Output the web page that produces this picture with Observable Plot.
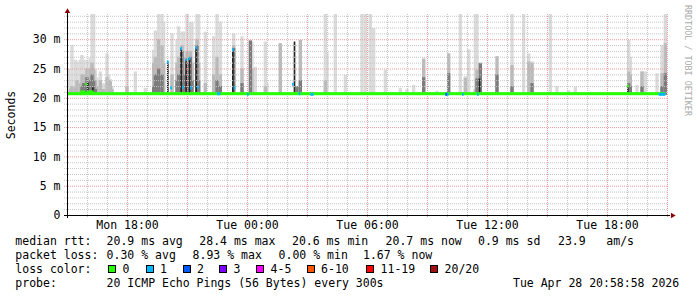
<!DOCTYPE html>
<html>
<head>
<meta charset="utf-8">
<script src="https://cdn.jsdelivr.net/npm/d3@7"></script>
<script src="https://cdn.jsdelivr.net/npm/@observablehq/plot@0.6"></script>
<style>
  html, body { margin: 0; padding: 0; background: #fff; overflow: hidden; }
  #chart svg { display: block; }
  #legend { position: relative; width: 697px; height: 65px; font-family: "DejaVu Sans Mono", monospace; font-size: 11.5px; color: #000; }
  #legend span { position: absolute; white-space: pre; line-height: 14px; }
  #legend .box { width: 6px; height: 6px; border: 1px solid #000; }
</style>
</head>
<body>
<div id="chart"></div>
<div id="legend"></div>
<script>
// ---- time frame (Mon 27 Apr 2026 15:00 → Tue 28 Apr 21:00, 30 h) ----
const START = Date.UTC(2026, 3, 27, 15, 0, 0);
const SPAN_HOURS = 30;

// ---- axis tick labels ----
const xTickHours = [3, 9, 15, 21, 27];
const xTickLabels = ["Mon 18:00", "Tue 00:00", "Tue 06:00", "Tue 12:00", "Tue 18:00"];
const yTickValues = [0, 5, 10, 15, 20, 25, 30];
const yTickLabels = ["0", "5 m", "10 m", "15 m", "20 m", "25 m", "30 m"];
const yTop = 34.3;

// ---- smoke: [minutes after start, top of layer in ms] ----
const smokeFloor = 20.5;
const smokeLight = [[0,24.9],[5,22.5],[10,29.0],[20,26.5],[25,26.2],[35,26.5],[40,27.3],[45,26.5],[50,25],[55,26.5],[65,26.8],[70,34.5],[75,34.5],[80,24.7],[85,23.5],[95,24.5],[105,22.5],[115,27.6],[120,24],[125,23.2],[130,22],[175,28],[200,24.5],[230,21.7],[255,28.2],[260,31.5],[270,34.5],[280,34.5],[285,33],[310,31],[325,29.9],[330,32.2],[340,31.3],[345,31.3],[355,34.5],[365,32.9],[370,32.9],[385,34.5],[390,34.5],[410,31.3],[435,30.5],[445,34.5],[455,33],[495,31],[520,30.5],[550,29.6],[560,25.3],[590,29.6],[595,22.5],[635,29.3],[730,21],[770,34.5],[775,27.8],[800,34.5],[830,23.9],[880,34.5],[890,34.5],[905,34.5],[915,31.9],[950,24.8],[995,21.7],[1015,21.5],[1035,22.2],[1065,26.8],[1105,21.2],[1175,34.5],[1190,23.7],[1200,28.3],[1220,34.5],[1225,34.5],[1330,34.5],[1365,34.5],[1380,27.6],[1390,26.2],[1445,34.5],[1465,22],[1500,21.3],[1520,21.9],[1680,29.9],[1685,27.0],[1705,22.2],[1720,24.5],[1730,24.5],[1765,24.2],[1780,29.0],[1790,34.5]];
const smokeMid = [[5,21.5],[10,22],[20,21.8],[25,23],[35,22.5],[40,24],[45,24],[50,23.5],[55,25],[65,25],[70,26],[75,25],[80,23],[85,22],[95,23],[105,21.5],[115,23.5],[120,23],[125,22.8],[130,21.5],[175,22],[255,26],[260,27],[270,30],[280,29],[285,26],[310,24],[325,26],[330,27],[340,29],[345,27],[355,28],[365,28],[370,26],[385,30],[390,26],[410,22.5],[435,24],[445,27],[455,24],[495,29],[520,25],[550,25],[590,22],[635,29.3],[695,29.9],[770,23],[1065,26.6],[1140,27.6],[1190,23.4],[1220,21.5],[1225,24.8],[1235,26],[1285,27.1],[1330,25.6],[1380,26.2],[1390,26],[1680,24.5],[1685,24],[1720,24.5],[1780,24.2],[1790,29.3]];
const smokeDark = [[40,22],[45,22.5],[50,22.3],[55,23.5],[65,23],[70,24],[75,23],[80,21.5],[255,22],[260,24],[270,25],[280,24],[325,23],[330,24],[340,28],[345,24],[355,26],[365,27],[370,23],[385,29],[390,23],[445,23],[455,22],[495,28.5],[520,22.5],[545,29.8],[685,22],[695,23],[1065,23.5],[1140,24.2],[1225,23.3],[1235,25.9],[1285,24],[1330,22],[1390,22.5],[1680,22.5],[1685,22],[1720,22],[1780,22],[1790,24.2]];
const smokeCore = [[60,22.6],[75,21.8],[300,26.2],[340,28.5],[355,26.5],[365,26.8],[385,28.5],[495,28.2],[680,29.6],[1235,23.3],[1680,22]];

// ---- median rtt runs: [start min, end min, median ms, loss class] ----
const medianRuns = [[0,1795,20.7,0],[40,55,21.0,0],[55,60,22.3,0],[60,80,21.0,0],[300,305,26.1,1],[310,315,21.7,1],[340,345,28.4,1],[345,350,21.8,1],[355,360,26.5,1],[365,370,26.7,1],[370,375,21.7,1],[385,390,28.5,1],[390,395,21.8,1],[450,460,20.7,1],[495,500,28.2,1],[500,505,21.7,1],[540,545,20.6,1],[675,680,22.3,1],[695,700,20.7,1],[730,740,20.6,1],[1135,1140,20.6,2],[1140,1145,20.6,1],[1185,1190,20.6,1],[1230,1235,20.6,1],[1680,1685,22.0,0],[1775,1795,20.6,1]];

// ---- loss legend ----
const lossLabels = ["0","1","2","3","4-5","6-10","11-19","20/20"];
const lossColors = ["#26ff00","#00b8ff","#0059ff","#7e00ff","#ff00ff","#ff5500","#ff0000","#a01111"];

// ---- summary text ----
const rttStats = ["median rtt:", "20.9 ms avg", "28.4 ms max", "20.6 ms min", "20.7 ms now", "0.9 ms sd", "23.9", "am/s"];
const lossStats = ["packet loss:", "0.30 % avg", "8.93 % max", "0.00 % min", "1.67 % now"];
const probeText = ["probe:", "20 ICMP Echo Pings (56 Bytes) every 300s", "Tue Apr 28 20:58:58 2026"];

// ---------------------------------------------------------------
const t = m => new Date(START + m * 60000);
const x0 = t(0), x1 = t(SPAN_HOURS * 60);
const hours = d3.range(0, SPAN_HOURS + 1);
const minorX = hours.filter(h => h % 3 !== 0).map(h => t(h * 60));
const majorX = hours.filter(h => h % 3 === 0 && h > 0).map(h => t(h * 60));
const minorY = d3.range(1, Math.floor(yTop) + 1).filter(v => v % 5 !== 0);
const majorY = yTickValues.filter(v => v > 0);
const xTicks = xTickHours.map(h => t(h * 60));

const smokeRect = (data, w, fill) => Plot.rect(data, {
  x1: d => t(d[0]), x2: d => t(d[0] + w), y1: smokeFloor, y2: d => d[1], fill, clip: true
});

const font = "DejaVu Sans Mono";
const chart = Plot.plot({
  width: 697, height: 232,
  marginLeft: 67, marginRight: 30, marginTop: 14, marginBottom: 17,
  style: { fontFamily: font, fontSize: "11.5px", background: "#fff", color: "#000" },
  x: { type: "utc", domain: [x0, x1] },
  y: { domain: [0, yTop] },
  color: { type: "ordinal", domain: d3.range(lossColors.length), range: lossColors },
  marks: [
    smokeRect(smokeLight, 10, "#dbdbdb"),
    smokeRect(smokeMid, 10, "#bababa"),
    smokeRect(smokeDark, 10, "#7c7c7c"),
    smokeRect(smokeCore, 5, "#222222"),
    Plot.ruleX(minorX, { stroke: "#c4c4c4", strokeDasharray: "1,1", insetBottom: -3 }),
    Plot.ruleX(majorX, { stroke: "#ea9c9c", strokeDasharray: "1,1", insetBottom: -3 }),
    Plot.ruleY(minorY, { stroke: "#c4c4c4", strokeDasharray: "1,1", insetLeft: -3 }),
    Plot.ruleY(majorY, { stroke: "#ea9c9c", strokeDasharray: "1,1", insetLeft: -3 }),
    Plot.rect(medianRuns, {
      x1: d => t(d[0]), x2: d => t(d[1]), y1: d => d[2] - 0.26, y2: d => d[2] + 0.26, fill: d => d[3]
    }),
    Plot.ruleY([0], { stroke: "#000", insetRight: -3, insetLeft: -3 }),
    Plot.ruleX([x0], { stroke: "#000", insetTop: -3, insetBottom: -3 }),
    Plot.dot([0], { frameAnchor: "top-left", symbol: "triangle2", r: 2.6, fill: "#8b0000", stroke: null, dy: -3 }),
    Plot.dot([0], { frameAnchor: "bottom-right", symbol: "triangle2", r: 2.6, fill: "#8b0000", stroke: null, rotate: 90, dx: 5 }),
    Plot.axisX(xTicks, {
      tickSize: 0, tickPadding: 5, label: null, fontSize: 11.5,
      tickFormat: d => xTickLabels[xTicks.findIndex(v => +v === +d)]
    }),
    Plot.axisY(yTickValues, {
      anchor: "left", tickSize: 0, tickPadding: 7, label: null, fontSize: 11.5,
      tickFormat: d => yTickLabels[yTickValues.indexOf(d)]
    }),
    Plot.text(["Seconds"], { frameAnchor: "left", textAnchor: "middle", lineAnchor: "middle", rotate: -90, dx: -56, fontSize: 11.5, fill: "#000" }),
    Plot.text(["RRDTOOL / TOBI OETIKER"], { frameAnchor: "top-right", textAnchor: "middle", lineAnchor: "middle", rotate: 90, dx: 20, dy: 46, fontSize: 8.4, fill: "#aaaaaa" })
  ]
});
document.getElementById("chart").appendChild(chart);

// ---- legend / summary block below the SVG ----
const legend = document.getElementById("legend");
const rowTop = [2, 16.3, 30.3, 44.3];
function put(text, x, row) {
  const s = document.createElement("span");
  s.textContent = text;
  s.style.left = (x - 0.7) + "px";
  s.style.top = rowTop[row] + "px";
  legend.appendChild(s);
}
const rttX = [16, 107.3, 200, 292.7, 386.3, 478.7, 558.7, 607];
rttStats.forEach((s, i) => put(s, rttX[i], 0));
const lossX = [16, 107.3, 193.3, 279.3, 363.7];
lossStats.forEach((s, i) => put(s, lossX[i], 1));
put("loss color:", 16, 2);
const boxX = [108, 145.5, 182.5, 219, 256, 306.5, 366, 430];
lossLabels.forEach((lab, i) => {
  const b = document.createElement("span");
  b.className = "box";
  b.style.left = boxX[i] + "px";
  b.style.top = "33.3px";
  b.style.background = lossColors[i];
  legend.appendChild(b);
  put(lab, boxX[i] + 15.3, 2);
});
const probeX = [16, 107.3, 513.7];
probeText.forEach((s, i) => put(s, probeX[i], 3));
</script>
</body>
</html>
